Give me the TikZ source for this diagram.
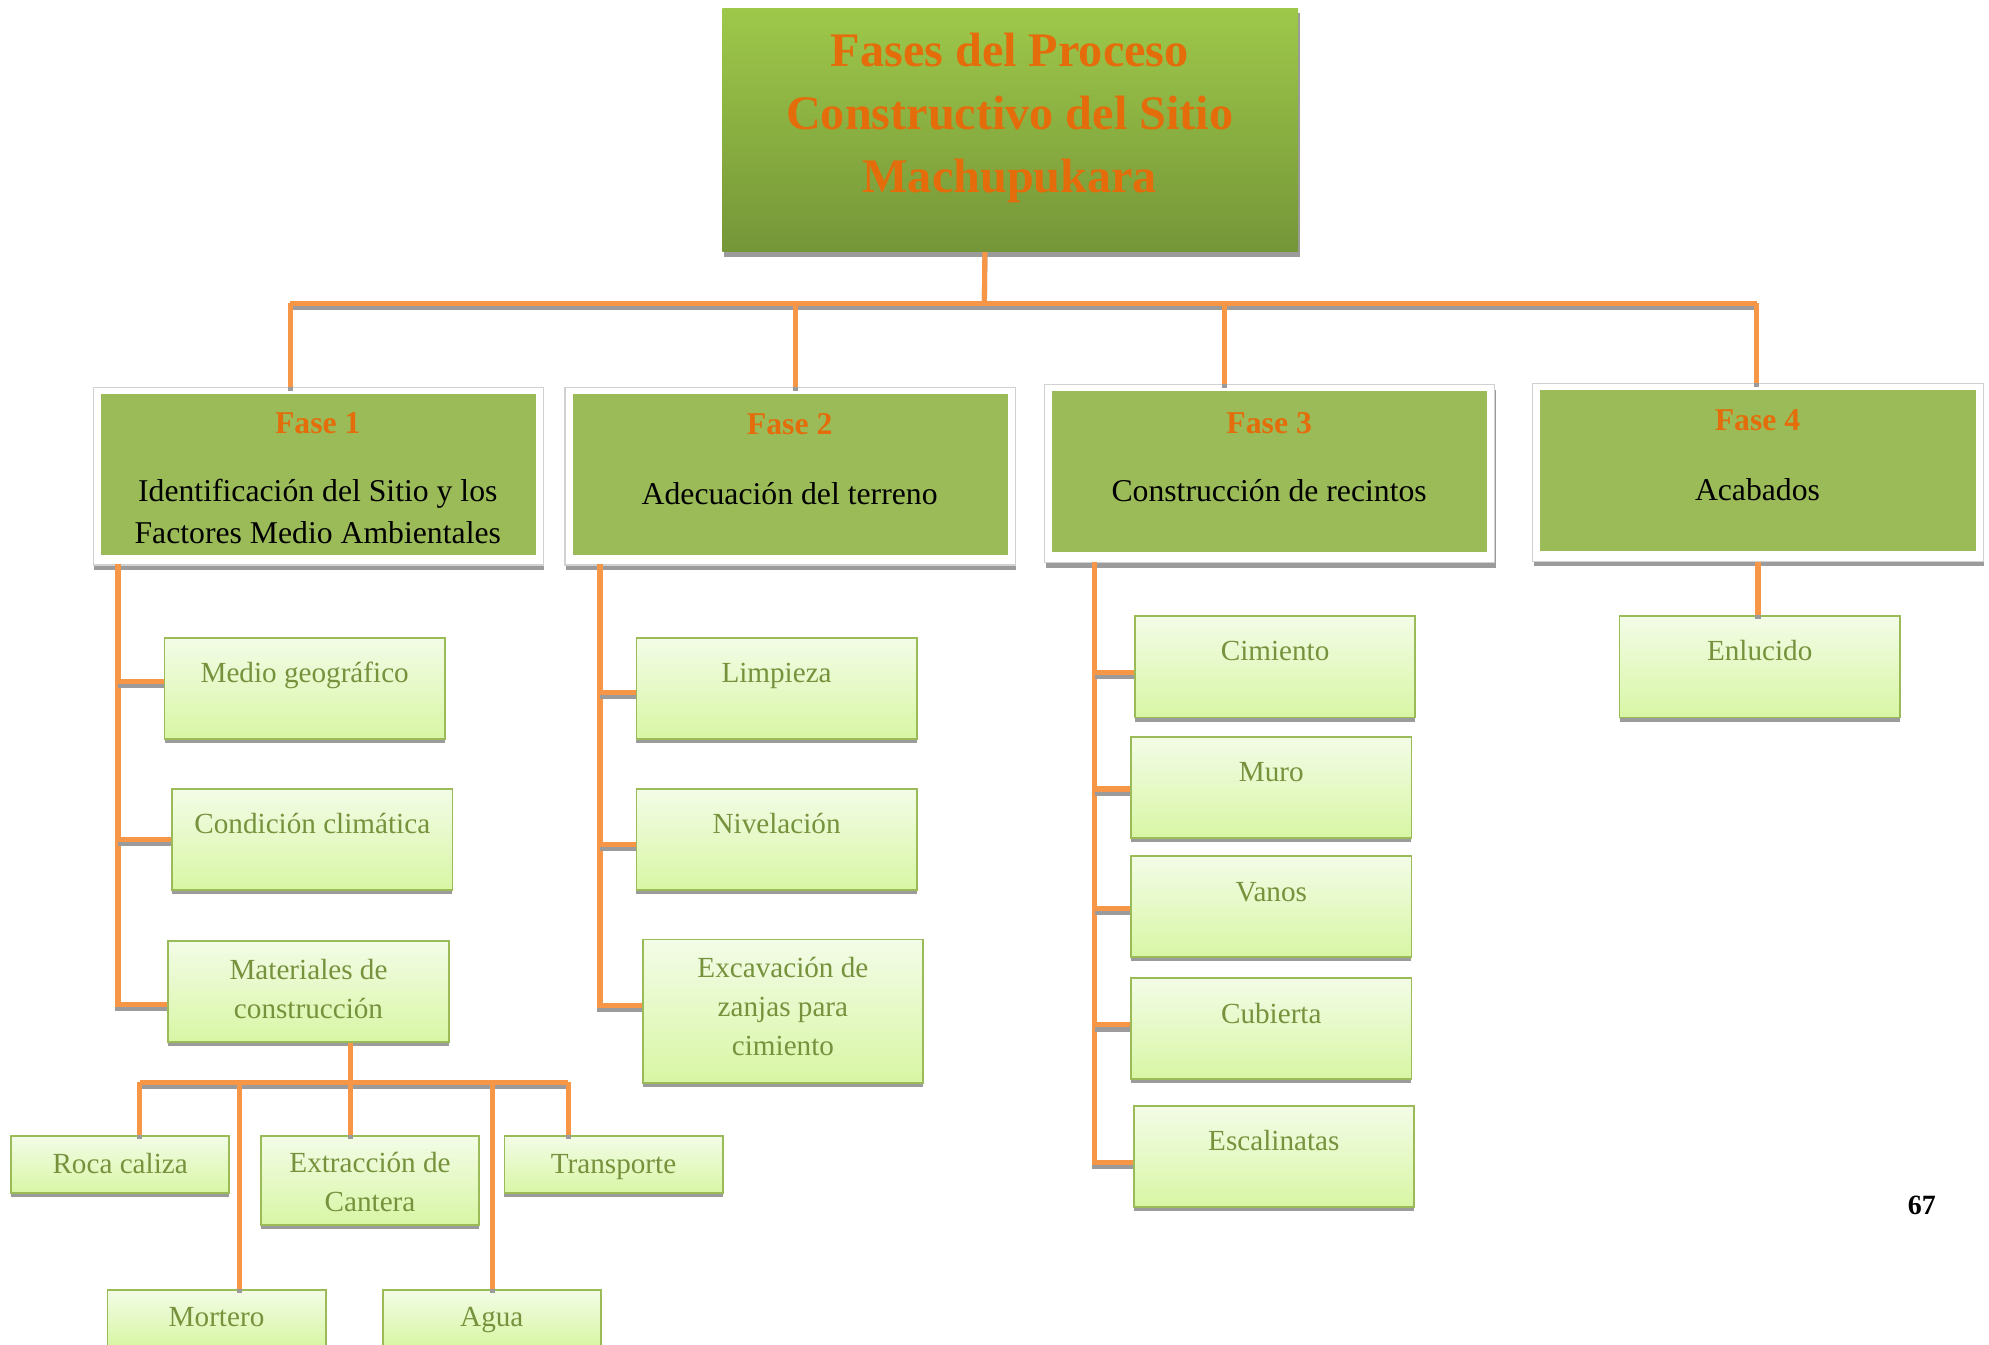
\documentclass[tikz,border=0pt]{standalone}
\usepackage{fontspec}
\setmainfont{Liberation Serif}
\usetikzlibrary{shadows}
\definecolor{conncol}{RGB}{247,150,70}
\definecolor{shcol}{RGB}{155,155,155}
\definecolor{titletop}{RGB}{158,200,74}
\definecolor{titlebot}{RGB}{117,150,56}
\definecolor{titletext}{RGB}{228,108,10}
\definecolor{fasegreen}{RGB}{155,187,89}
\definecolor{childtop}{RGB}{243,252,231}
\definecolor{childbot}{RGB}{216,246,164}
\definecolor{childborder}{RGB}{155,187,89}
\definecolor{childtext}{RGB}{118,146,60}
\begin{document}
\begin{tikzpicture}[x=0.5pt,y=-0.5pt,
  conn/.style={draw=conncol, line width=2pt, preaction={draw=shcol, line width=2pt, transform canvas={yshift=-1.6pt}}},
  titlebox/.style={anchor=north west, inner sep=0pt, minimum width=227pt, minimum height=96pt,
    top color=titletop, bottom color=titlebot, draw=none,
    drop shadow={shadow xshift=0.6pt, shadow yshift=-2pt, fill=shcol, opacity=1}},
  titletxt/.style={align=center, text=titletext, font=\fontsize{19}{24.75}\selectfont\bfseries},
  faseframe/.style={anchor=north west, inner sep=0pt, minimum width=177.5pt, minimum height=70pt,
    fill=white, draw=black!18, line width=0.4pt,
    drop shadow={shadow xshift=0.4pt, shadow yshift=-2pt, fill=shcol, opacity=1}},
  faseinner/.style={anchor=north west, inner sep=0pt, minimum width=171.5pt, minimum height=63.5pt,
    fill=fasegreen, draw=none},
  faselbl/.style={text=titletext, font=\fontsize{12.5}{15}\selectfont\bfseries, text height=8.6pt, text depth=0pt},
  fasebody/.style={align=center, text=black, font=\fontsize{12.5}{16.5}\selectfont},
  onebody/.style={fasebody, text height=8.6pt, text depth=0pt},
  childbox/.style={anchor=north west, inner sep=0pt, minimum width=110.5pt, minimum height=40pt,
    top color=childtop, bottom color=childbot, draw=childborder, line width=0.7pt,
    drop shadow={shadow xshift=0pt, shadow yshift=-1.6pt, fill=shcol, opacity=1}},
  smallbox/.style={childbox, minimum width=86pt, minimum height=22.5pt},
  ctext/.style={align=center, text=childtext, font=\fontsize{11.5}{15.5}\selectfont},
  cone/.style={ctext, text height=7.9pt, text depth=0pt}
]
\useasboundingbox (0,0) rectangle (1568,1060);

% ---------- title ----------
\node[titlebox] (title) at (569,6) {};
\node[titletxt] (title-t) at (796,93) {Fases del Proceso\\Constructivo del Sitio\\Machupukara};

% ---------- phases ----------
\node[faseframe] (f1) at (73,305) {};
\node[faseinner] (f1in) at (79,310) {};
\node[faselbl] (f1a) at (250.5,333) {Fase 1};
\node[fasebody] (f1b) at (250.5,403.5) {Identificación del Sitio y los\\Factores Medio Ambientales};

\node[faseframe] (f2) at (445,305) {};
\node[faseinner] (f2in) at (451,310) {};
\node[faselbl] (f2a) at (622.5,334) {Fase 2};
\node[onebody] (f2b) at (622.5,389) {Adecuación del terreno};

\node[faseframe] (f3) at (823,303) {};
\node[faseinner] (f3in) at (829,308) {};
\node[faselbl] (f3a) at (1000.5,333) {Fase 3};
\node[onebody] (f3b) at (1000.5,387) {Construcción de recintos};

\node[faseframe] (f4) at (1208,302) {};
\node[faseinner] (f4in) at (1214,307) {};
\node[faselbl] (f4a) at (1385.5,331) {Fase 4};
\node[onebody] (f4b) at (1385.5,386) {Acabados};

% ---------- Fase 1 children ----------
\node[childbox] (medio) at (129,502) {};
\node[cone] (medio-t) at (medio.north |- 0,530) {Medio geográfico};
\node[childbox] (cond) at (135,621) {};
\node[cone] (cond-t) at (cond.north |- 0,649) {Condición climática};
\node[childbox] (mat) at (132,741) {};
\node[ctext] (mat-t) at (mat.north |- 0,779.5) {Materiales de\\construcción};

\node[smallbox] (roca) at (8,895) {};
\node[cone] (roca-t) at (roca.north |- 0,917) {Roca caliza};
\node[smallbox, minimum height=35pt] (extr) at (205,895) {};
\node[ctext] (extr-t) at (extr.north |- 0,932) {Extracción de\\Cantera};
\node[smallbox] (transp) at (397,895) {};
\node[cone] (transp-t) at (transp.north |- 0,917) {Transporte};
\node[smallbox, minimum height=22pt] (mort) at (84,1016) {};
\node[cone] (mort-t) at (mort.north |- 0,1038) {Mortero};
\node[smallbox, minimum height=22pt] (agua) at (301,1016) {};
\node[cone] (agua-t) at (agua.north |- 0,1038) {Agua};

% ---------- Fase 2 children ----------
\node[childbox] (limp) at (501,502) {};
\node[cone] (limp-t) at (limp.north |- 0,530) {Limpieza};
\node[childbox] (niv) at (501,621) {};
\node[cone] (niv-t) at (niv.north |- 0,649) {Nivelación};
\node[childbox, minimum height=56.5pt] (exc) at (506,740) {};
\node[ctext] (exc-t) at (exc.north |- 0,793.5) {Excavación de\\zanjas para\\cimiento};

% ---------- Fase 3 children ----------
\node[childbox] (cim) at (894,485) {};
\node[cone] (cim-t) at (cim.north |- 0,513) {Cimiento};
\node[childbox] (muro) at (891,580) {};
\node[cone] (muro-t) at (muro.north |- 0,608) {Muro};
\node[childbox] (vanos) at (891,674) {};
\node[cone] (vanos-t) at (vanos.north |- 0,703) {Vanos};
\node[childbox] (cub) at (891,770) {};
\node[cone] (cub-t) at (cub.north |- 0,799) {Cubierta};
\node[childbox] (esc) at (893,871) {};
\node[cone] (esc-t) at (esc.north |- 0,899) {Escalinatas};

% ---------- Fase 4 child ----------
\node[childbox] (enl) at (1276,485) {};
\node[cone] (enl-t) at (enl.north |- 0,513) {Enlucido};

% ---------- page number ----------
\node[font=\fontsize{11}{13}\selectfont\bfseries] (pg) at (1515,950) {67};

% ---------- connectors ----------
\coordinate (hub) at (776,239);
\coordinate (d1) at (229,239);
\coordinate (d2) at (627,239);
\coordinate (d3) at (965,239);
\coordinate (d4) at (1385,239);
\draw[conn] ([xshift=-10pt]title.south) -- (hub);
\draw[conn] (d1) -- (d4);
\draw[conn] (d1) -- (d1 |- f1.north);
\draw[conn] (d2) -- (d2 |- f2.north);
\draw[conn] (d3) -- (d3 |- f3.north);
\draw[conn] (d4) -- (d4 |- f4.north);

% Fase 1
\coordinate (t1) at (93,445);
\coordinate (b11) at (93,537);
\coordinate (b12) at (93,662);
\draw[conn] (t1) |- ([yshift=-5pt]mat.west);
\draw[conn] (b11) -- (b11 -| medio.west);
\draw[conn] (b12) -- (b12 -| cond.west);

% Materiales
\coordinate (m0) at (276,853);
\coordinate (ma) at (110,853);
\coordinate (mb) at (448,853);
\coordinate (mc) at (189,853);
\coordinate (md) at (388,853);
\draw[conn] (mat.south -| m0) -- (m0);
\draw[conn] (ma) -- (mb);
\draw[conn] (ma) -- (ma |- roca.north);
\draw[conn] (m0) -- (m0 |- extr.north);
\draw[conn] (mb) -- (mb |- transp.north);
\draw[conn] (mc) -- (mc |- mort.north);
\draw[conn] (md) -- (md |- agua.north);

% Fase 2
\coordinate (t2) at (473,445);
\coordinate (b21) at (473,546);
\coordinate (b22) at (473,666);
\draw[conn] (t2) |- ([yshift=2.25pt]exc.west);
\draw[conn] (b21) -- (b21 -| limp.west);
\draw[conn] (b22) -- (b22 -| niv.west);

% Fase 3
\coordinate (t3) at (863,443);
\coordinate (b31) at (863,530);
\coordinate (b32) at (863,622);
\coordinate (b33) at (863,716);
\coordinate (b34) at (863,808);
\draw[conn] (t3) |- ([yshift=-2.5pt]esc.west);
\draw[conn] (b31) -- (b31 -| cim.west);
\draw[conn] (b32) -- (b32 -| muro.west);
\draw[conn] (b33) -- (b33 -| vanos.west);
\draw[conn] (b34) -- (b34 -| cub.west);

% Fase 4
\draw[conn] (f4.south) -- (f4.south |- enl.north);
\end{tikzpicture}
\end{document}
